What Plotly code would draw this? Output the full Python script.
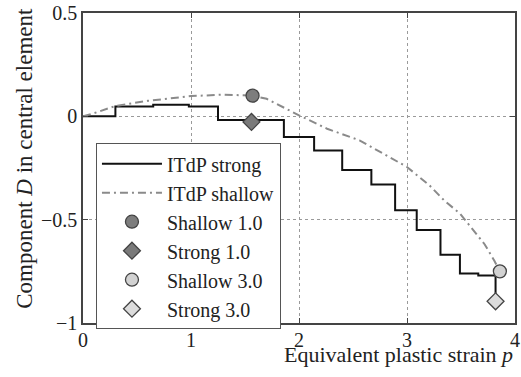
import plotly.graph_objects as go

# ITdP strong (staircase) - equivalent plastic strain vs component D
strong_p = [0, 0.30, 0.65, 0.98, 1.25, 1.86, 2.14, 2.40, 2.67, 2.89, 3.09, 3.31, 3.49, 3.66, 3.82]
strong_D = [0, 0.047, 0.056, 0.048, -0.018, -0.10, -0.165, -0.26, -0.33, -0.455, -0.55, -0.67, -0.76, -0.77, -0.87]

# ITdP shallow (dash-dot curve)
shallow_p = [0, 0.1, 0.3, 0.6, 1.0, 1.3, 1.57, 1.7, 2.0, 2.26, 2.56, 3.0, 3.21, 3.35, 3.49, 3.61, 3.72, 3.81, 3.86]
shallow_D = [0, 0.015, 0.05, 0.075, 0.098, 0.105, 0.10, 0.085, 0.005, -0.06, -0.116, -0.245, -0.335, -0.41, -0.47, -0.55, -0.62, -0.70, -0.75]

# Individual markers
marker_names = ["Shallow 1.0", "Strong 1.0", "Shallow 3.0", "Strong 3.0"]
marker_p = [1.57, 1.56, 3.86, 3.82]
marker_D = [0.10, -0.027, -0.75, -0.895]
marker_symbols = ["circle", "diamond", "circle", "diamond"]
marker_fills = ["#7d7d7d", "#7a7a7a", "#d2d2d2", "#dcdcdc"]

x_ticks = [0, 1, 2, 3, 4]
y_ticks = [-1, -0.5, 0, 0.5]
y_ticktext = ["\u22121", "\u22120.5", "0", "0.5"]

FONT = "Liberation Serif, Times New Roman, serif"

fig = go.Figure()
fig.add_trace(go.Scatter(
    x=strong_p, y=strong_D, mode="lines", name="ITdP strong",
    line=dict(color="#111111", width=2, shape="hv"),
))
fig.add_trace(go.Scatter(
    x=shallow_p, y=shallow_D, mode="lines", name="ITdP shallow",
    line=dict(color="#8a8a8a", width=2, dash="8px,4px,2px,4px"),
))
for name, px, py, sym, fill in zip(marker_names, marker_p, marker_D, marker_symbols, marker_fills):
    fig.add_trace(go.Scatter(
        x=[px], y=[py], mode="markers", name=name,
        marker=dict(symbol=sym, size=13, color=fill, line=dict(color="#444444", width=1.3)),
    ))

axis_common = dict(
    showline=True, mirror="ticks", linecolor="#444444", linewidth=1.5,
    ticks="inside", ticklen=5, tickcolor="#444444",
    showgrid=True, gridcolor="#9a9a9a", griddash="dot", gridwidth=1,
    zeroline=False, automargin=False,
    tickfont=dict(family=FONT, size=20, color="#222222"),
)

fig.update_xaxes(range=[0, 4], tickvals=x_ticks, ticklabelstandoff=-2, **axis_common)
fig.update_yaxes(range=[-1, 0.5], tickvals=y_ticks, ticktext=y_ticktext, **axis_common)

fig.update_layout(
    width=521, height=377,
    margin=dict(l=83, r=6, t=13, b=54, autoexpand=False),
    paper_bgcolor="white", plot_bgcolor="white",
    font=dict(family=FONT, color="#222222"),
    showlegend=True,
    legend=dict(
        x=0.03, y=0.58, xanchor="left", yanchor="top",
        bgcolor="white", bordercolor="#555555", borderwidth=1,
        font=dict(family=FONT, size=20, color="#222222"),
        itemwidth=60,
    ),
    annotations=[
        dict(text="Equivalent plastic strain <i>p</i>", xref="paper", yref="paper",
             x=1.0, y=-0.1, xanchor="right", yanchor="middle", showarrow=False,
             font=dict(family=FONT, size=22, color="#222222")),
        dict(text="Component <i>D</i> in central element", xref="paper", yref="paper",
             x=-0.134, y=0.53, xanchor="center", yanchor="middle", showarrow=False,
             textangle=-90, font=dict(family=FONT, size=23, color="#222222")),
    ],
)

fig.write_html(
    "out.html",
    config={"displayModeBar": False},
    post_script="document.body.style.margin='0';document.body.style.overflow='hidden';",
)
